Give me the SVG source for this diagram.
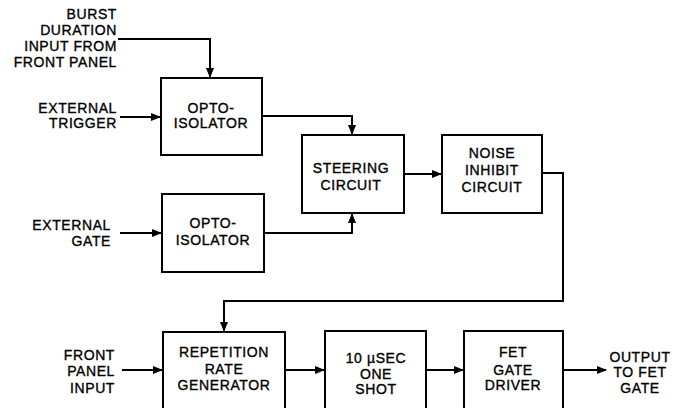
<svg xmlns="http://www.w3.org/2000/svg" width="676" height="408" viewBox="0 0 676 408">
<style>
.box{fill:#fff;stroke:#000;stroke-width:2}
.ln{fill:none;stroke:#000;stroke-width:2}
text{font-family:"Liberation Sans",Arial,sans-serif;font-size:14px;fill:#000;stroke:#000;stroke-width:0.35;letter-spacing:0.6px}
.c{text-anchor:middle}
.r{text-anchor:end}
</style>
<defs>
<marker id="ah" markerWidth="10" markerHeight="8" refX="9" refY="4" orient="auto" markerUnits="userSpaceOnUse">
<path d="M0,0 L10,4 L0,8 Z" fill="#000"/>
</marker>
</defs>
<rect width="676" height="408" fill="#fff"/>
<g id="connectors">
<path class="ln" d="M118,39 H210 V77" marker-end="url(#ah)"/>
<path class="ln" d="M120,117 H160" marker-end="url(#ah)"/>
<path class="ln" d="M262,116 H352 V134" marker-end="url(#ah)"/>
<path class="ln" d="M120,233 H161" marker-end="url(#ah)"/>
<path class="ln" d="M264,233 H352 V214" marker-end="url(#ah)"/>
<path class="ln" d="M404,174 H441" marker-end="url(#ah)"/>
<path class="ln" d="M542,173 H563 V301 H224 V331" marker-end="url(#ah)"/>
<path class="ln" d="M122,370 H162" marker-end="url(#ah)"/>
<path class="ln" d="M285,370 H324" marker-end="url(#ah)"/>
<path class="ln" d="M426,370 H463" marker-end="url(#ah)"/>
<path class="ln" d="M563,370 H606" marker-end="url(#ah)"/>
</g>
<g id="label-burst">
<text class="r" x="117" y="19">BURST</text>
<text class="r" x="117" y="35">DURATION</text>
<text class="r" x="117" y="51">INPUT FROM</text>
<text class="r" x="117" y="67">FRONT PANEL</text>
</g>
<g id="label-trigger">
<text class="r" x="117" y="113">EXTERNAL</text>
<text class="r" x="117" y="128">TRIGGER</text>
</g>
<g id="opto1">
<rect class="box" x="161" y="78" width="101" height="77"/>
<text class="c" x="211" y="113">OPTO-</text>
<text class="c" x="211" y="128">ISOLATOR</text>
</g>
<g id="label-gate">
<text class="r" x="111" y="230">EXTERNAL</text>
<text class="r" x="111" y="246">GATE</text>
</g>
<g id="opto2">
<rect class="box" x="162" y="194" width="102" height="78"/>
<text class="c" x="213" y="228">OPTO-</text>
<text class="c" x="213" y="245">ISOLATOR</text>
</g>
<g id="steering">
<rect class="box" x="302" y="135" width="102" height="78"/>
<text class="c" x="351" y="173">STEERING</text>
<text class="c" x="351" y="190">CIRCUIT</text>
</g>
<g id="noise">
<rect class="box" x="442" y="135" width="100" height="78"/>
<text class="c" x="492" y="158">NOISE</text>
<text class="c" x="492" y="175">INHIBIT</text>
<text class="c" x="492" y="192">CIRCUIT</text>
</g>
<g id="label-front">
<text class="r" x="115" y="360">FRONT</text>
<text class="r" x="115" y="376">PANEL</text>
<text class="r" x="115" y="393">INPUT</text>
</g>
<g id="reprate">
<rect class="box" x="163" y="332" width="122" height="82"/>
<text class="c" x="224" y="357">REPETITION</text>
<text class="c" x="224" y="374">RATE</text>
<text class="c" x="224" y="390">GENERATOR</text>
</g>
<g id="oneshot">
<rect class="box" x="325" y="331" width="101" height="83"/>
<text class="c" x="376" y="363">10 µSEC</text>
<text class="c" x="376" y="379">ONE</text>
<text class="c" x="376" y="394">SHOT</text>
</g>
<g id="fetdriver">
<rect class="box" x="464" y="331" width="99" height="83"/>
<text class="c" x="513" y="357">FET</text>
<text class="c" x="513" y="375">GATE</text>
<text class="c" x="513" y="390">DRIVER</text>
</g>
<g id="label-output">
<text class="c" x="640" y="362">OUTPUT</text>
<text class="c" x="640" y="377">TO FET</text>
<text class="c" x="640" y="393">GATE</text>
</g>
</svg>
